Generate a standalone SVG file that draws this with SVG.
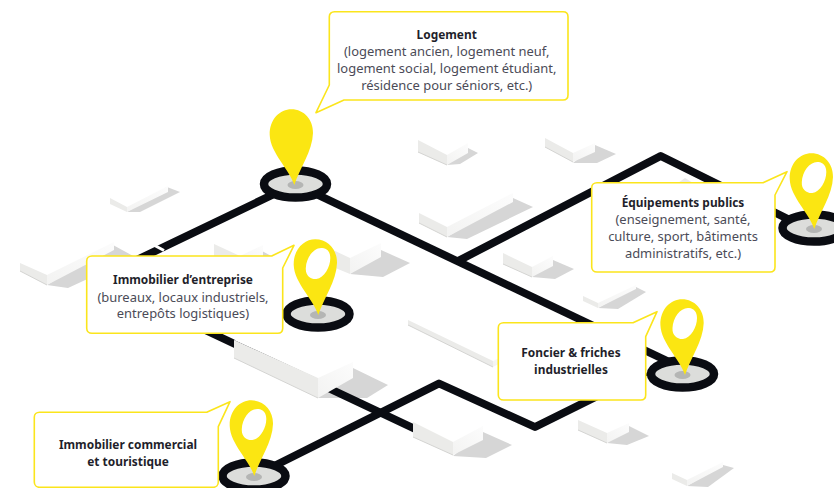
<svg xmlns="http://www.w3.org/2000/svg" width="834" height="488" viewBox="0 0 834 488">
<style>
text{font-family:"Noto Sans","Open Sans","Liberation Sans",sans-serif;font-size:12.95px;fill:#4b4b57;text-anchor:middle}
text.b{font-size:11.9px;font-weight:700;fill:#1f1f2b}
.road{fill:none;stroke:#0a0c12;stroke-width:7.8;stroke-linejoin:round}
.sh{fill:#d6d6d6}.lf{fill:#ebebe9}.rf{fill:url(#rg)}.tp{fill:#fff}
.edge{fill:none;stroke:#d4d4d2;stroke-width:1}
.box{fill:#fff;stroke:#fbe51c;stroke-width:1.6;stroke-linejoin:round}
.ring{fill:#dcdddb;stroke:#0a0c12;stroke-width:8.5}
.dot{fill:#b4b5b4}.pin{fill:#fbe612}
</style>
<defs>
<linearGradient id="rg" x1="0" y1="1" x2="1" y2="0"><stop offset="0" stop-color="#f3f3f2"/><stop offset="1" stop-color="#fcfcfc"/></linearGradient>
<g id="base"><ellipse class="ring" cx="0" cy="0" rx="31.5" ry="13.6"/><ellipse class="dot" cx="0" cy="1" rx="8" ry="4"/></g>
<path id="head" class="pin" d="M0,0C-5,-16 -24,-32 -24.6,-50C-25,-66 -14,-75.7 -3,-75.7C10,-75.7 19,-65 18.7,-52C18.3,-34 5,-16 0,0Z"/>
<path id="holed" class="pin" fill-rule="evenodd" d="M0,0C-5,-16 -24,-32 -24.6,-50C-25,-66 -14,-75.7 -3,-75.7C10,-75.7 19,-65 18.7,-52C18.3,-34 5,-16 0,0ZM4,-67C-4,-68 -12,-58 -12.500,-47C-13,-39 -7,-35.500 -2,-36C6,-37 12,-48 12,-57C12,-63 9,-66.500 4,-67Z"/>
</defs>
<rect width="834" height="488" fill="#fff"/>
<polygon class="sh" points="353,368 388,385 367,398 317,398"/>
<g id="connectors">
<path class="road" d="M295,184L97,279L430,436"/>
<path class="road" d="M295,184L682,368"/>
<path class="road" d="M458,261L660.700,156L814,232"/>
<path class="road" d="M254,476L439,383.500L535,427L646,372"/>
<path d="M151,243.500L164,250.500" fill="none" stroke="#fff" stroke-width="3"/>
</g>
<g id="buildings">
<g><polygon class="sh" points="167,187 180,192 140,212 127,212"/><polygon class="lf" points="110,198 127,207 127,212 110,204"/><polygon class="rf" points="127,207 168,186 168,192 127,212"/></g>
<g><polygon class="sh" points="113,245 135,257 68,288 47,285"/><polygon class="lf" points="20,263 47,275 47,285 20,271"/><polygon class="rf" points="47,275 114,242 114,250 47,285"/><path class="edge" d="M20,271L47,285"/></g>
<g><polygon class="sh" points="262,251 275,258 240,270"/><polygon class="lf" points="214,244 214,258 240,270 240,256"/><polygon class="rf" points="240,256 263,245 263,258 240,270"/></g>
<g><polygon class="sh" points="381,250 410,263 383,277 350,274"/><polygon class="lf" points="333,250 333,267 350,274 350,258"/><polygon class="rf" points="350,258 381,243 381,257 350,274"/></g>
<g><polygon class="tp" points="234,340 272,322 353,362 318,378"/><polygon class="lf" points="234,340 234,358 318,398 318,378"/><polygon class="rf" points="318,378 353,362 353,378 318,398"/><path class="edge" d="M234,358L318,398"/></g>
<g><polygon class="sh" points="468,148 478,153 460,164 447,165"/><polygon class="lf" points="418,140 418,152 447,165 447,155"/><polygon class="rf" points="447,155 468,143 468,153 447,165"/><path class="edge" d="M418,152L447,165"/></g>
<g><polygon class="sh" points="595,145 616,154 597,163 573,163"/><polygon class="lf" points="545,138 545,147 573,162 573,153"/><polygon class="rf" points="573,153 595,143 595,152 573,162"/><path class="edge" d="M545,147L573,162"/></g>
<g><polygon class="sh" points="513,198 533,207 467,239 447,237"/><polygon class="lf" points="419,213 419,223 447,237 447,227"/><polygon class="rf" points="447,227 513,193 513,202 447,237"/><path class="edge" d="M419,223L447,237"/></g>
<g><polygon class="sh" points="553,260 574,269 555,279 532,277"/><polygon class="lf" points="503,253 503,264 532,277 532,267"/><polygon class="rf" points="532,267 553,256 553,266 532,277"/><path class="edge" d="M503,264L532,277"/></g>
<g><polygon class="sh" points="636,287 646,292 618,309 598,308"/><polygon class="lf" points="583,296 583,301 598,308 598,303"/><polygon class="rf" points="598,303 636,285 636,289 598,308"/></g>
<g><polygon class="lf" points="408,320 408,325 493,367 493,361"/><polygon class="rf" points="493,361 510,353 510,358 493,367"/><path class="edge" d="M408,325L493,367"/></g>
<g><polygon class="sh" points="483,432 512,445 486,458 453,456"/><polygon class="tp" points="413,422 449,405 483,426 453,442"/><polygon class="lf" points="413,422 413,437 453,455 453,442"/><polygon class="rf" points="453,442 483,426 483,440 453,455"/><path class="edge" d="M413,437L453,455"/></g>
<g><polygon class="sh" points="629,426 649,436 627,445 607,443"/><polygon class="lf" points="578,420 578,430 607,443 607,433"/><polygon class="rf" points="607,433 629,423 629,432 607,443"/><path class="edge" d="M578,430L607,443"/></g>
<g><polygon class="sh" points="723,465 734,468 708,487 687,486"/><polygon class="lf" points="672,473 672,479 687,486 687,480"/><polygon class="rf" points="687,480 723,462 723,467 687,486"/></g>
<polygon class="sh" points="678,183 685,178 693,183" opacity=".5"/>
</g>
<g id="node-logement">
<use href="#base" x="295.500" y="184"/>
<use href="#head" x="294.300" y="185"/>
<path class="box" d="M334.500,11.700H563C566,11.700 568,13.700 568,16.700V95C568,98 566,100 563,100H344L316,112.700L329.300,85V16.700C329.300,13.700 331.300,11.700 334.500,11.700Z"/>
<text x="446.700" y="38.500" class="b">Logement</text>
<text x="446.700" y="55.500">(logement ancien, logement neuf,</text>
<text x="446.700" y="72.500">logement social, logement étudiant,</text>
<text x="446.700" y="90">résidence pour séniors, etc.)</text>
</g>
<g id="node-equipements">
<use href="#base" x="814" y="228"/>
<use href="#holed" x="814.300" y="229"/>
<path class="box" d="M597,182.700H763L787,171.700L775,195V267C775,270 773,272 770,272H597C594,272 591.700,270 591.700,267V187.700C591.700,184.700 594,182.700 597,182.700Z"/>
<text x="683" y="206.700" class="b">Équipements publics</text>
<text x="683" y="224">(enseignement, santé,</text>
<text x="683" y="241">culture, sport, bâtiments</text>
<text x="683" y="258">administratifs, etc.)</text>
</g>
<g id="node-entreprise">
<use href="#base" x="318" y="314"/>
<use href="#holed" x="318.300" y="315"/>
<path class="box" d="M92,256H271.700L294,245.300L282.700,268V328.300C282.700,331.300 280.700,333.300 277.700,333.300H92C89,333.300 86.700,331.300 86.700,328.300V261C86.700,258 89,256 92,256Z"/>
<text x="183" y="284" class="b">Immobilier d’entreprise</text>
<text x="183" y="301.700">(bureaux, locaux industriels,</text>
<text x="183" y="318">entrepôts logistiques)</text>
</g>
<g id="node-foncier">
<use href="#base" x="682.500" y="374"/>
<use href="#holed" x="685" y="375"/>
<path class="box" d="M503.500,322.700H633L657,311.700L645.700,336.700V395C645.700,398 643.700,400 640.700,400H503.500C500.500,400 498.300,398 498.300,395V327.700C498.300,324.700 500.500,322.700 503.500,322.700Z"/>
<text x="571" y="356.700" class="b">Foncier &amp; friches</text>
<text x="571" y="374" class="b">industrielles</text>
</g>
<g id="node-commercial">
<use href="#base" x="254" y="476"/>
<use href="#holed" x="254.300" y="476"/>
<path class="box" d="M39.500,412.300H206.700L230,401.700L218.300,426.700V482C218.300,485 216.300,487.300 213.300,487.300H39.500C36.500,487.300 34.300,485 34.300,482V417.300C34.300,414.300 36.500,412.300 39.500,412.300Z"/>
<text x="128" y="449" class="b">Immobilier commercial</text>
<text x="128" y="466" class="b">et touristique</text>
</g>
</svg>
